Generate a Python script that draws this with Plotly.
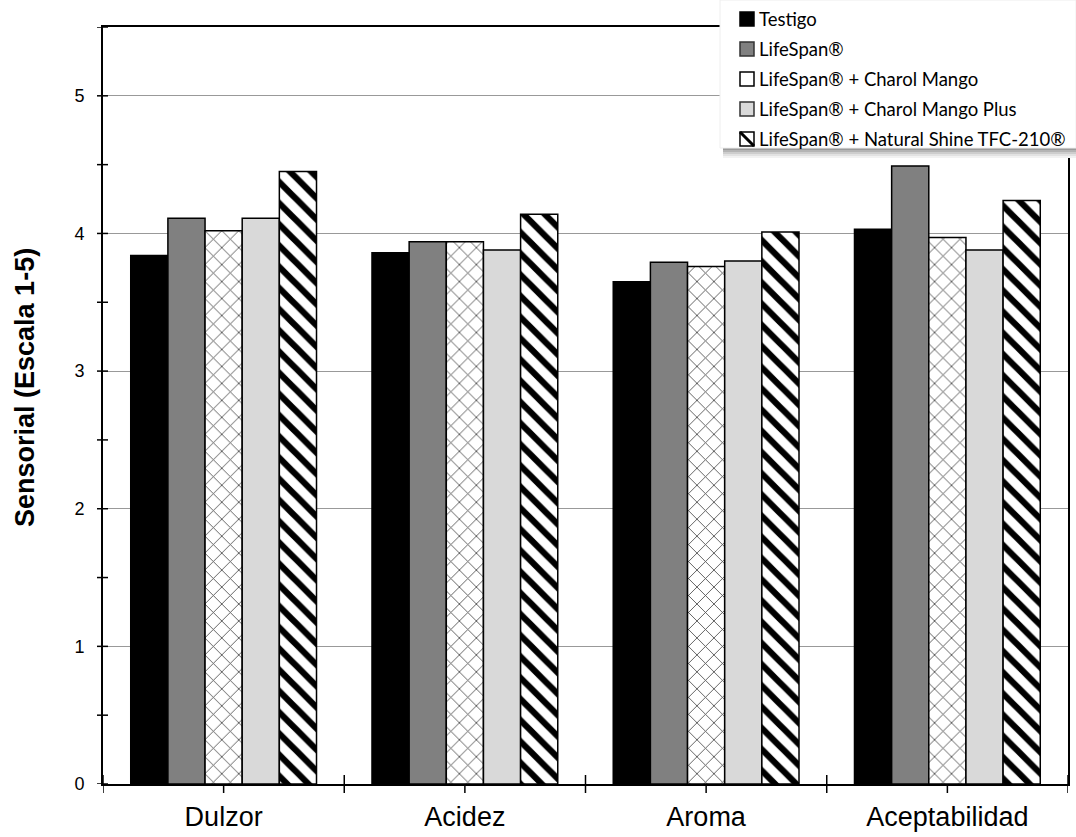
import numpy as np
import plotly.graph_objects as go

# Sensory attributes and treatment means (scale 1-5)
categories = ["Dulzor", "Acidez", "Aroma", "Aceptabilidad"]
series_names = [
    "Testigo",
    "LifeSpan®",
    "LifeSpan® + Charol Mango",
    "LifeSpan® + Charol Mango Plus",
    "LifeSpan® + Natural Shine TFC-210®",
]
testigo = [3.84, 3.86, 3.65, 4.03]
lifespan = [4.11, 3.94, 3.79, 4.49]
charol_mango = [4.02, 3.94, 3.76, 3.97]
charol_mango_plus = [4.11, 3.88, 3.80, 3.88]
natural_shine = [4.45, 4.14, 4.01, 4.24]
y_ticks = [0, 1, 2, 3, 4, 5]

W, H = 1076, 837
ML, MR, MT, MB = 103, 8, 27, 53
PW, PH = W - ML - MR, H - MT - MB


def px_x(px):
    return (px - ML) / PW


def px_y(py):
    return (H - MB - py) / PH


series_values = [testigo, lifespan, charol_mango, charol_mango_plus, natural_shine]
styles = [
    dict(color="#000000"),
    dict(color="#808080"),
    dict(color="#ffffff", pattern=dict(shape="x", fgcolor="#4d4d4d", bgcolor="#ffffff",
                                       fgopacity=1, size=12, solidity=0.14)),
    dict(color="#d9d9d9"),
    dict(color="#ffffff", pattern=dict(shape="\\", fgcolor="#000000", bgcolor="#ffffff",
                                       fgopacity=1, size=15, solidity=0.42)),
]

fig = go.Figure()
for name, vals, st in zip(series_names, series_values, styles):
    marker = dict(color=st["color"], line=dict(color="#000000", width=1.5))
    if "pattern" in st:
        marker["pattern"] = st["pattern"]
    fig.add_trace(go.Bar(x=categories, y=vals, name=name, marker=marker, showlegend=False))

shapes = []
annotations = []
# crossing tick marks on the value axis (major + half steps)
for v in np.arange(0, 5.51, 0.5):
    shapes.append(dict(type="line", xref="paper", yref="y", x0=-6 / PW, x1=5 / PW,
                       y0=v, y1=v, line=dict(color="#000000", width=1.5), layer="above"))
# category axis tick marks: group boundaries and group centres
n = len(categories)
for p in [i - 0.5 for i in range(n + 1)] + list(range(n)):
    shapes.append(dict(type="line", xref="x", yref="paper", x0=p, x1=p,
                       y0=-9 / PH, y1=9 / PH, line=dict(color="#000000", width=1.5),
                       layer="below"))

# legend panel with a soft shadow along its lower edge
box_l, box_r, box_t, box_b = 720, W, 0, 148
shade = ["#9a9a9a", "#b4b4b4", "#cdcdcd", "#e2e2e2", "#f2f2f2"]
for k, c in enumerate(shade):
    shapes.append(dict(type="rect", xref="paper", yref="paper",
                       x0=px_x(box_l + 3), x1=px_x(box_r),
                       y0=px_y(box_b + (k + 1) * 2), y1=px_y(box_b + k * 2),
                       fillcolor=c, line=dict(width=0), layer="above"))
shapes.append(dict(type="rect", xref="paper", yref="paper",
                   x0=px_x(box_l), x1=px_x(box_r), y0=px_y(box_b), y1=px_y(box_t),
                   fillcolor="#ffffff", line=dict(color="#eeeeee", width=1), layer="above"))

# legend entries
row0, row_step = 19, 30
sym_l, sym_r, sym_h = 740, 754, 7
text_x = 757
legend_sym = [
    dict(fill="#000000", edge="#000000", diag=False),
    dict(fill="#808080", edge="#333333", diag=False),
    dict(fill="#ffffff", edge="#000000", diag=False),
    dict(fill="#d9d9d9", edge="#333333", diag=False),
    dict(fill="#ffffff", edge="#000000", diag=True),
]
for i, (name, sym) in enumerate(zip(series_names, legend_sym)):
    cy = row0 + i * row_step
    shapes.append(dict(type="rect", xref="paper", yref="paper",
                       x0=px_x(sym_l), x1=px_x(sym_r), y0=px_y(cy + sym_h), y1=px_y(cy - sym_h),
                       fillcolor=sym["fill"], line=dict(color=sym["edge"], width=1.5),
                       layer="above"))
    if sym["diag"]:
        shapes.append(dict(type="line", xref="paper", yref="paper",
                           x0=px_x(sym_l), x1=px_x(sym_r), y0=px_y(cy - sym_h),
                           y1=px_y(cy + sym_h), line=dict(color="#000000", width=3),
                           layer="above"))
    annotations.append(dict(text=name, xref="paper", yref="paper", x=px_x(text_x),
                            y=px_y(cy), xanchor="left", yanchor="middle", showarrow=False,
                            font=dict(family="Lato, Open Sans, sans-serif", size=18.5,
                                      color="#000000")))

# value axis title
annotations.append(dict(text="<b>Sensorial (Escala 1-5)</b>", xref="paper", yref="paper",
                        x=px_x(25), y=px_y(388), xanchor="center", yanchor="middle",
                        textangle=-90, showarrow=False,
                        font=dict(size=27, family="Liberation Sans, Arial, sans-serif",
                                  color="#000000")))

fig.update_layout(
    width=W, height=H,
    margin=dict(l=ML, r=MR, t=MT, b=MB),
    paper_bgcolor="#ffffff", plot_bgcolor="#ffffff",
    barmode="group", bargap=0.23, bargroupgap=0,
    font=dict(family="Liberation Sans, Arial, sans-serif", color="#000000"),
    shapes=shapes, annotations=annotations,
    showlegend=False,
    xaxis=dict(
        type="category", range=[-0.5, n - 0.5], automargin=False,
        showline=True, linecolor="#000000", linewidth=2, mirror=True,
        showgrid=False, ticks="", ticklabelstandoff=8,
        tickfont=dict(size=27, family="Liberation Sans, Arial, sans-serif"),
    ),
    yaxis=dict(
        range=[0, 5.5], tickvals=y_ticks, ticktext=[str(t) for t in y_ticks],
        automargin=False,
        showline=True, linecolor="#000000", linewidth=2, mirror=True,
        showgrid=True, gridcolor="#999999", gridwidth=1.3, zeroline=False,
        ticks="", ticklabelstandoff=13,
        tickfont=dict(size=18, family="Liberation Sans, Arial, sans-serif"),
    ),
)

fig.write_html("out.html")
